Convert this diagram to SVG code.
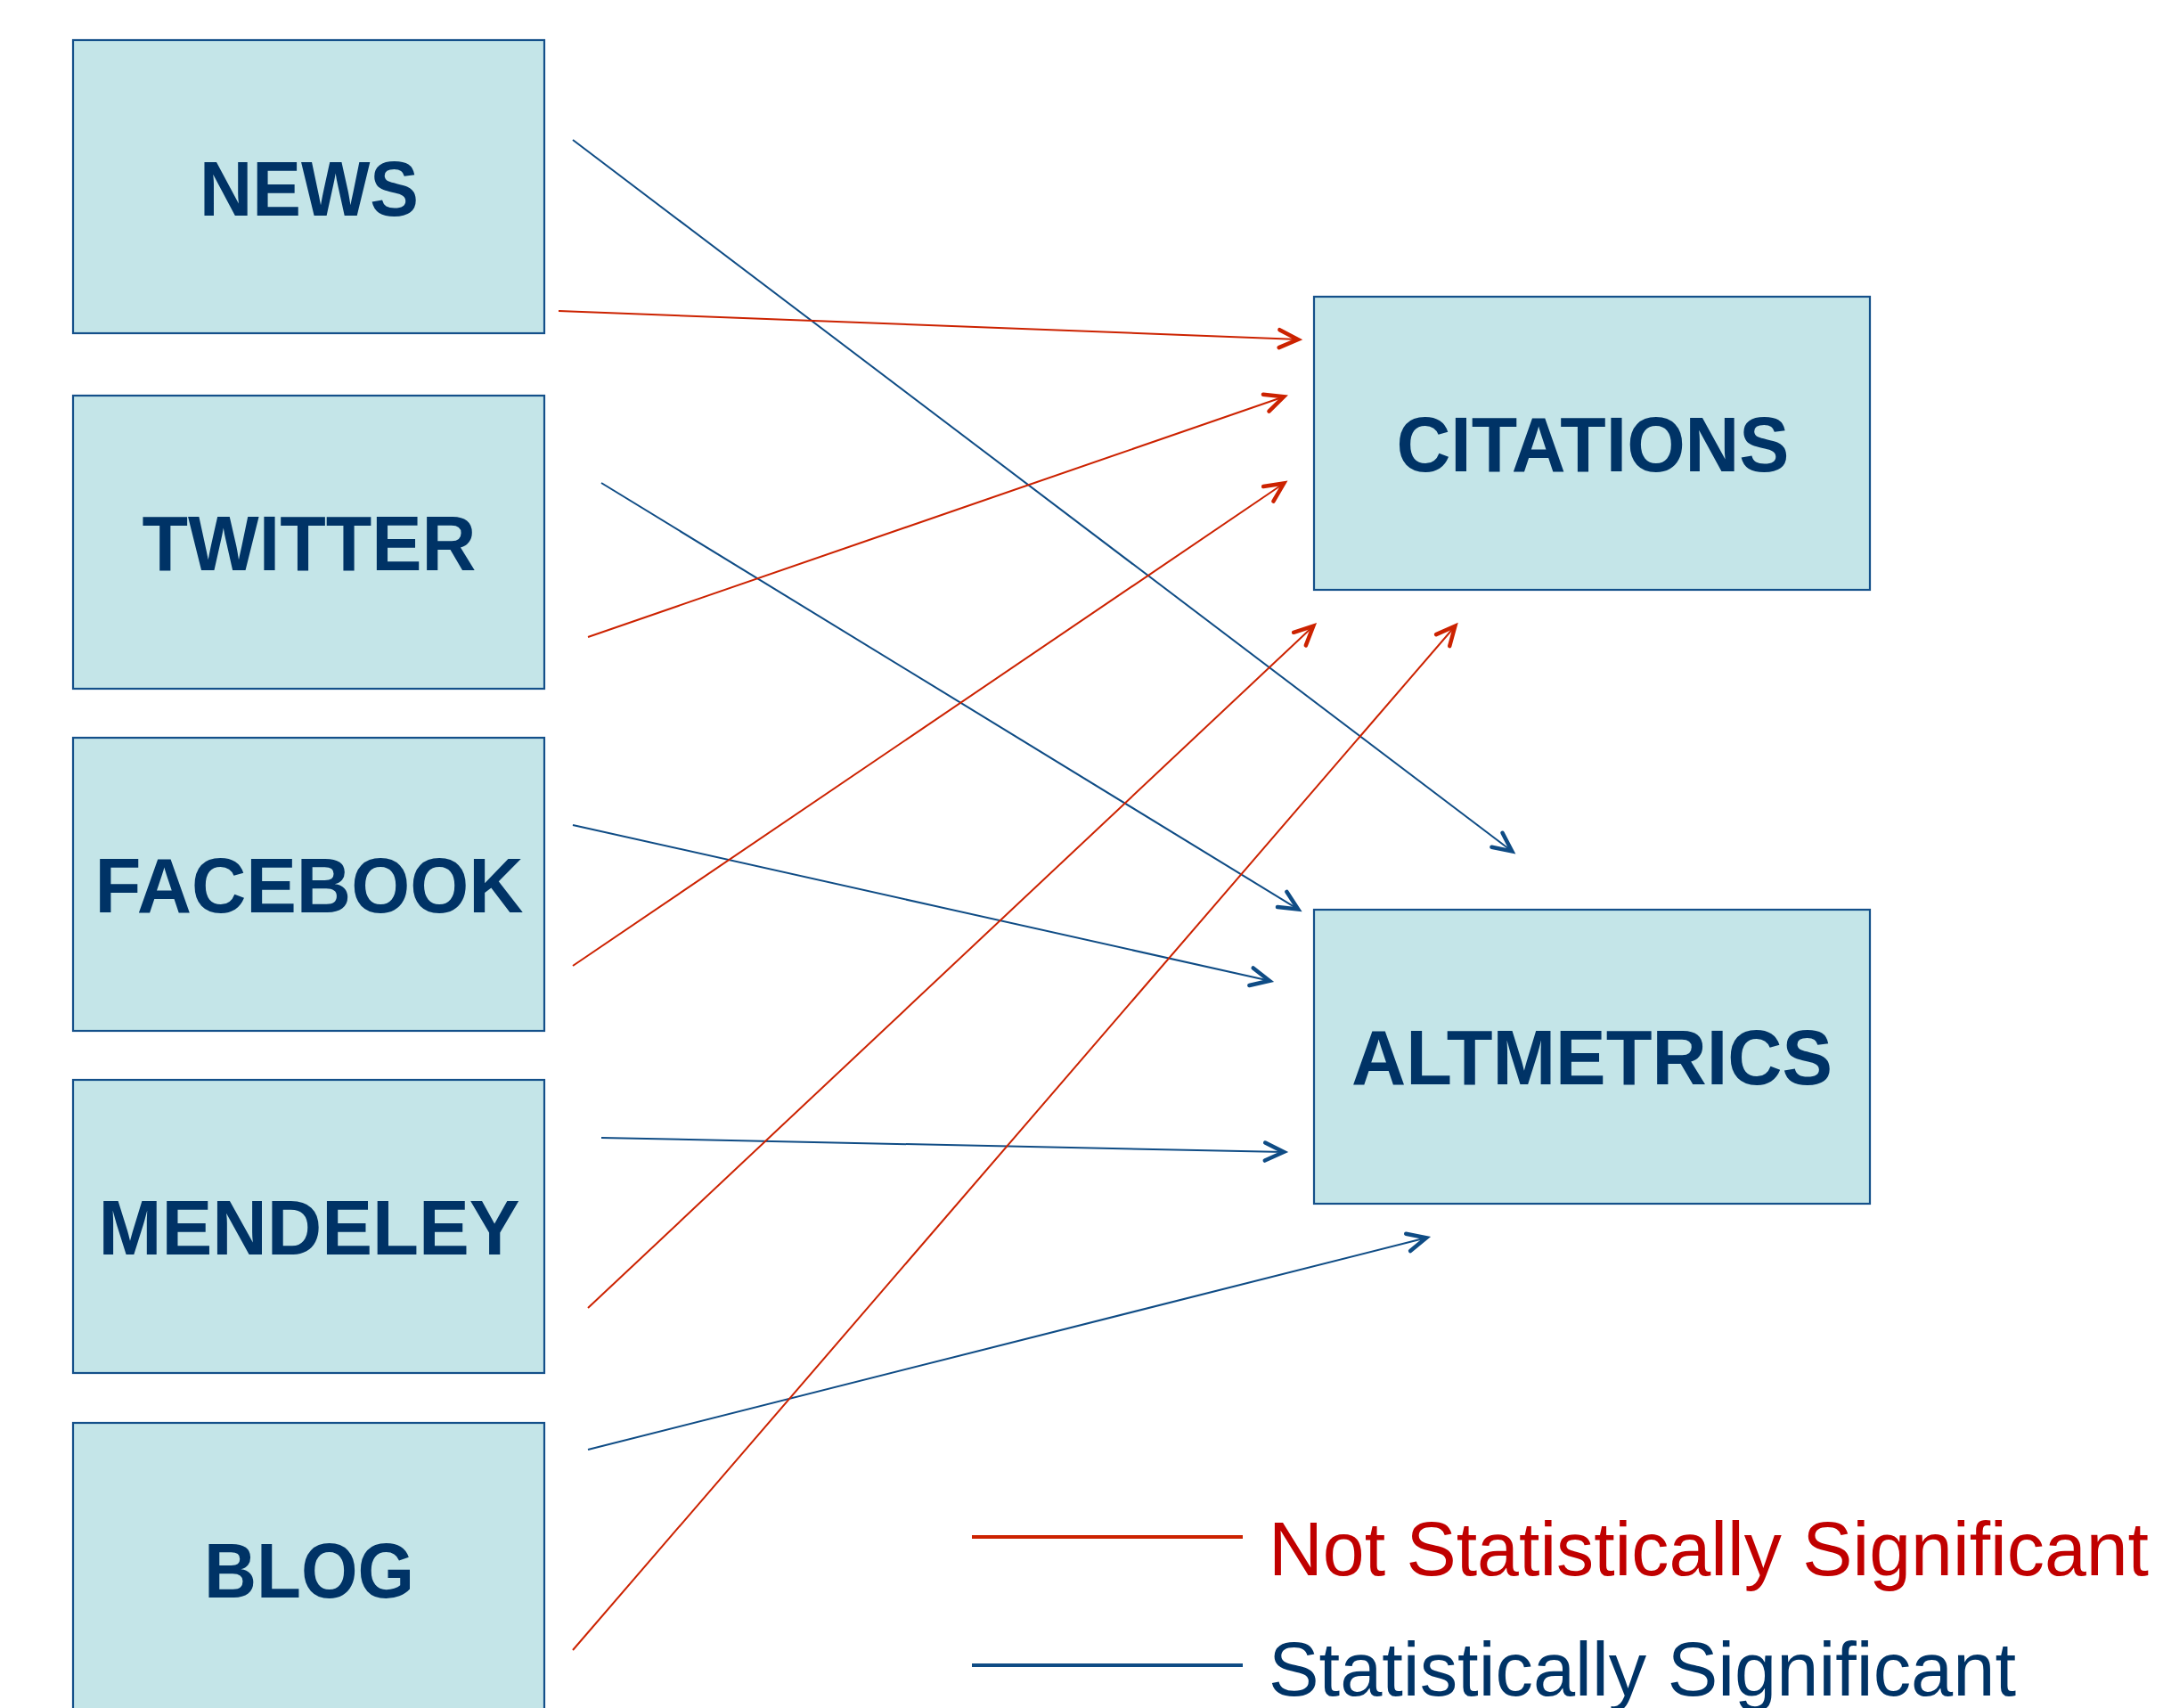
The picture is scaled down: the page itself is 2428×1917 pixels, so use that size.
<svg xmlns="http://www.w3.org/2000/svg" width="2428" height="1917" viewBox="0 0 2428 1917">
  <style>
    .box { fill: #C4E5E8; stroke: #14508A; stroke-width: 2.2; }
    .label { font-family: "Liberation Sans", Arial, sans-serif; font-weight: bold; font-size: 87px; fill: #003366; text-anchor: middle; }
    .sig { stroke: #0F4C85; stroke-width: 2; fill: none; }
    .nsig { stroke: #CC2200; stroke-width: 2; fill: none; }
    .legend { font-family: "Liberation Sans", Arial, sans-serif; font-size: 86px; }
  </style>
  <defs>
    <marker id="head-sig" markerUnits="userSpaceOnUse" orient="auto" markerWidth="40" markerHeight="40" viewBox="-30 -20 40 40" refX="0" refY="0" overflow="visible">
      <path d="M-22,-10 L-1,0 L-22,10" fill="none" stroke="#0F4C85" stroke-width="4.5" stroke-linecap="round" stroke-linejoin="miter"/>
    </marker>
    <marker id="head-nsig" markerUnits="userSpaceOnUse" orient="auto" markerWidth="40" markerHeight="40" viewBox="-30 -20 40 40" refX="0" refY="0" overflow="visible">
      <path d="M-22,-10 L-1,0 L-22,10" fill="none" stroke="#CC2200" stroke-width="4.5" stroke-linecap="round" stroke-linejoin="miter"/>
    </marker>
  </defs>

  <rect width="2428" height="1917" fill="#FFFFFF"/>

  <!-- source nodes -->
  <g id="news">
    <rect class="box" x="82" y="45" width="529" height="329"/>
    <text class="label" x="347" y="242" textLength="246" lengthAdjust="spacingAndGlyphs">NEWS</text>
  </g>
  <g id="twitter">
    <rect class="box" x="82" y="444" width="529" height="329"/>
    <text class="label" x="347" y="640" textLength="375" lengthAdjust="spacingAndGlyphs">TWITTER</text>
  </g>
  <g id="facebook">
    <rect class="box" x="82" y="828" width="529" height="329"/>
    <text class="label" x="347" y="1024" textLength="481" lengthAdjust="spacingAndGlyphs">FACEBOOK</text>
  </g>
  <g id="mendeley">
    <rect class="box" x="82" y="1212" width="529" height="329"/>
    <text class="label" x="347" y="1408" textLength="473" lengthAdjust="spacingAndGlyphs">MENDELEY</text>
  </g>
  <g id="blog">
    <rect class="box" x="82" y="1597" width="529" height="340"/>
    <text class="label" x="347" y="1793" textLength="236" lengthAdjust="spacingAndGlyphs">BLOG</text>
  </g>

  <!-- target nodes -->
  <g id="citations">
    <rect class="box" x="1475" y="333" width="624" height="329"/>
    <text class="label" x="1788" y="529" textLength="441" lengthAdjust="spacingAndGlyphs">CITATIONS</text>
  </g>
  <g id="altmetrics">
    <rect class="box" x="1475" y="1021" width="624" height="330"/>
    <text class="label" x="1787" y="1217" textLength="540" lengthAdjust="spacingAndGlyphs">ALTMETRICS</text>
  </g>

  <!-- connectors -->
  <g id="connectors">
    <!-- significant paths to altmetrics -->
    <line class="sig" x1="643" y1="157" x2="1698" y2="956" marker-end="url(#head-sig)"/>
    <line class="sig" x1="675" y1="542" x2="1458" y2="1021" marker-end="url(#head-sig)"/>
    <line class="sig" x1="643" y1="926" x2="1426" y2="1101" marker-end="url(#head-sig)"/>
    <line class="sig" x1="675" y1="1277" x2="1442" y2="1293" marker-end="url(#head-sig)"/>
    <line class="sig" x1="660" y1="1627" x2="1602" y2="1389" marker-end="url(#head-sig)"/>
    <!-- non-significant paths to citations -->
    <line class="nsig" x1="627" y1="349" x2="1458" y2="381" marker-end="url(#head-nsig)"/>
    <line class="nsig" x1="660" y1="715" x2="1442" y2="445" marker-end="url(#head-nsig)"/>
    <line class="nsig" x1="643" y1="1084" x2="1442" y2="542" marker-end="url(#head-nsig)"/>
    <line class="nsig" x1="660" y1="1468" x2="1475" y2="702" marker-end="url(#head-nsig)"/>
    <line class="nsig" x1="643" y1="1852" x2="1634" y2="702" marker-end="url(#head-nsig)"/>
  </g>

  <!-- legend -->
  <g id="legend">
    <line x1="1091" y1="1725" x2="1395" y2="1725" stroke="#CC2200" stroke-width="4"/>
    <text class="legend" x="1424" y="1768" fill="#C00000" textLength="988" lengthAdjust="spacingAndGlyphs">Not Statistically Significant</text>
    <line x1="1091" y1="1869" x2="1395" y2="1869" stroke="#0F4C85" stroke-width="4"/>
    <text class="legend" x="1424" y="1903" fill="#003366" textLength="839" lengthAdjust="spacingAndGlyphs">Statistically Significant</text>
  </g>
</svg>
